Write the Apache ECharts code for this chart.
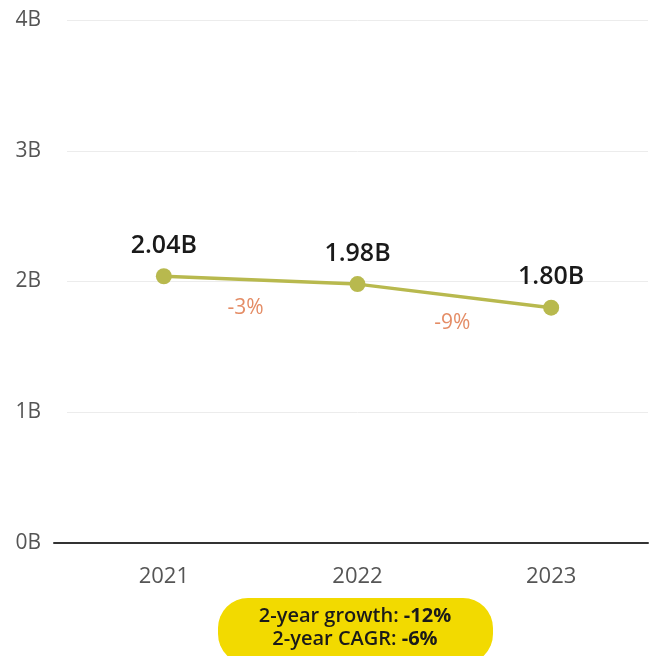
<!DOCTYPE html>
<html>
<head>
<meta charset="utf-8">
<script src="https://cdn.jsdelivr.net/npm/echarts@6/dist/echarts.min.js"></script>
<style>
  html, body { margin: 0; padding: 0; background: #fff; }
  #chart { width: 653px; height: 656px; }
</style>
</head>
<body>
<div id="chart"></div>
<script>
// Annual totals, in billions
const years = ['2021', '2022', '2023'];
const values = [2.04, 1.98, 1.80];
const valueLabels = ['2.04B', '1.98B', '1.80B'];
// Year-over-year change shown between points
const changeLabels = ['-3%', '-9%'];
const yTicks = [0, 1, 2, 3, 4];
const growthText = '-12%';
const cagrText = '-6%';

const FONT = '"Open Sans", "Noto Sans", sans-serif';
const LINE = '#b8b94e';
const changeOffsets = [[-15, 0], [-2, 0]];

// Place change labels at the midpoint of each segment
const changePoints = changeLabels.map((t, i) => ({
  value: [i + 0.5, (values[i] + values[i + 1]) / 2],
  label: { formatter: t, offset: changeOffsets[i] }
}));

const chart = echarts.init(document.getElementById('chart'));
chart.setOption({
  animation: false,
  grid: [
    { left: 67, right: 5, top: 20, bottom: 113 },
    { left: 54, right: 5, top: 20, bottom: 113 }
  ],
  xAxis: [
    {
      type: 'category', gridIndex: 0, data: years, boundaryGap: true,
      axisLine: { show: false }, axisTick: { show: false },
      axisLabel: { color: '#555', fontSize: 22, fontWeight: 500, fontFamily: FONT, margin: 23 }
    },
    {
      type: 'value', gridIndex: 0, min: -0.5, max: 2.5, show: false
    },
    {
      type: 'value', gridIndex: 1, min: 0, max: 1,
      axisLine: { show: true, onZero: false, lineStyle: { color: '#333', width: 2 } },
      axisTick: { show: false }, axisLabel: { show: false }, splitLine: { show: false }
    }
  ],
  yAxis: [
    {
      type: 'value', gridIndex: 0, min: 0, max: 4, interval: 1,
      axisLine: { show: false }, axisTick: { show: false },
      axisLabel: {
        color: '#555', fontSize: 21, fontWeight: 500, fontFamily: FONT, margin: 26,
        formatter: v => yTicks.includes(v) ? v + 'B' : ''
      },
      splitLine: { lineStyle: { color: '#ececec', width: 1 } }
    },
    {
      type: 'value', gridIndex: 1, min: 0, max: 1, show: false
    }
  ],
  series: [
    {
      type: 'line', xAxisIndex: 0, yAxisIndex: 0,
      data: values,
      symbol: 'circle', symbolSize: 16,
      lineStyle: { color: LINE, width: 3.5 },
      itemStyle: { color: LINE },
      label: {
        show: true, position: 'top', distance: 10,
        color: '#1a1a1a', fontSize: 25, fontWeight: 600, fontFamily: FONT,
        formatter: p => valueLabels[p.dataIndex]
      },
      z: 3
    },
    {
      type: 'scatter', xAxisIndex: 1, yAxisIndex: 0,
      data: changePoints,
      symbolSize: 0,
      label: {
        show: true, position: 'bottom', distance: 17,
        color: '#dd6f3f', fontSize: 21, fontWeight: 500, fontFamily: FONT
      },
      silent: true
    }
  ],
  graphic: [
    {
      type: 'group', left: 218, top: 598,
      children: [
        {
          type: 'rect',
          shape: { x: 0, y: 0, width: 275, height: 66, r: 30 },
          style: { fill: '#f2da00' }
        },
        {
          type: 'text', x: 137, y: 30,
          style: {
            text: '{n|2-year growth: }{b|' + growthText + '}\n{n|2-year CAGR: }{b|' + cagrText + '}',
            align: 'center', verticalAlign: 'middle',
            rich: {
              n: { fontSize: 20, fontFamily: FONT, fontWeight: 600, fill: '#1a1a1a', lineHeight: 23 },
              b: { fontSize: 20, fontFamily: FONT, fontWeight: 'bold', fill: '#1a1a1a', lineHeight: 23 }
            }
          }
        }
      ]
    }
  ]
});
</script>
</body>
</html>
